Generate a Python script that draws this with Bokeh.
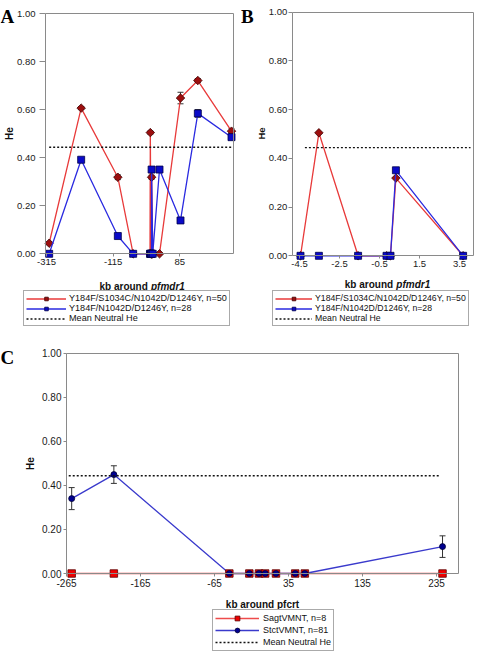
import numpy as np
from bokeh.plotting import figure
from bokeh.models import (ColumnDataSource, Whisker, TeeHead, Legend, LegendItem, Label,
                          FixedTicker, PrintfTickFormatter, Range1d, LinearAxis)
from bokeh.layouts import column, row
from bokeh.embed import file_html
from bokeh.resources import INLINE

# ------------------------------------------------------------------ data
# Panel A: He around pfmdr1 (kb)
kb_A = [-307, -211, -101, -55, -4.45, -3.53, -1.57, -0.15, 0.05, 0.32, 3.68, 24, 87, 139, 240]
he_A_quad = [0.044, 0.607, 0.319, 0.0, 0.0, 0.505, 0.0, 0.0, 0.0, 0.319, 0.0, 0.0, 0.649, 0.722, 0.511]
err_A_quad = [0.006, 0.006, 0.010, 0.0, 0.0, 0.006, 0.0, 0.0, 0.0, 0.008, 0.0, 0.0, 0.024, 0.008, 0.010]
he_A_triple = [0.0, 0.392, 0.074, 0.0, 0.0, 0.0, 0.0, 0.0, 0.0, 0.351, 0.0, 0.351, 0.139, 0.585, 0.486]
err_A_triple = [0.0, 0.006, 0.008, 0.0, 0.0, 0.0, 0.0, 0.0, 0.0, 0.006, 0.0, 0.006, 0.008, 0.016, 0.008]
ticks_A = [-315, -115, 85]
extent_A = (-318, 246)
neutral_x_A = [-307, 246]

# Panel B: close-up around pfmdr1 (kb)
kb_B = [-4.45, -3.53, -1.57, -0.15, 0.05, 0.32, 3.68]
he_B_quad = [0.0, 0.505, 0.0, 0.0, 0.0, 0.319, 0.0]
he_B_triple = [0.0, 0.0, 0.0, 0.0, 0.0, 0.351, 0.0]
ticks_B = [-4.5, -2.5, -0.5, 1.5, 3.5]
extent_B = (-4.865, 4.215)
neutral_x_B = [-4.23, 4.05]

# Panel C: He around pfcrt (kb)
kb_C = [-258, -201, -45, -18, -5, 3.4, 18, 44, 57, 243]
he_C_sagt = [0.0, 0.0, 0.0, 0.0, 0.0, 0.0, 0.0, 0.0, 0.0, 0.0]
he_C_stct = [0.340, 0.449, 0.0, 0.0, 0.0, 0.0, 0.0, 0.0, 0.0, 0.122]
err_C_stct = [0.050, 0.040, 0.0, 0.0, 0.0, 0.0, 0.0, 0.0, 0.0, 0.049]
ticks_C = [-265, -165, -65, 35, 135, 235]
extent_C = (-265, 265)
neutral_x_C = [-262, 240]

mean_neutral_he = 0.444
y_ticks = [0.0, 0.2, 0.4, 0.6, 0.8, 1.0]

lab_quad = "Y184F/S1034C/N1042D/D1246Y, n=50"
lab_triple = "Y184F/N1042D/D1246Y, n=28"
lab_sagt = "SagtVMNT, n=8"
lab_stct = "StctVMNT, n=81"
lab_neutral = "Mean Neutral He"

# ------------------------------------------------------------------ style
FONT = "Liberation Sans"
SERIF = "Liberation Serif"
AXIS_GRAY = "#8a8a8a"
RED_LINE = "#e83a3a"
RED_FILL = "#9c0e0e"
RED_EDGE = "#3d0000"
BLUE_LINE = "#2a2ae0"
BLUE_FILL = "#0a0ac8"
BLUE_EDGE = "#00004a"
SAGT_LINE = "#ee4b4b"
SAGT_FILL = "#ee0000"
SAGT_EDGE = "#5a0000"
STCT_LINE = "#3a3acc"
STCT_FILL = "#00008f"
STCT_EDGE = "#000033"


def style_axis(ax, tick_font="10px", tick_out=3, standoff=2, ticks=True):
    ax.axis_line_color = AXIS_GRAY
    ax.axis_line_width = 1
    ax.minor_tick_line_color = None
    if ticks:
        ax.major_tick_line_color = AXIS_GRAY
        ax.major_tick_out = tick_out
        ax.major_tick_in = 0
        ax.major_label_text_font = FONT
        ax.major_label_text_font_size = tick_font
        ax.major_label_text_color = "#1a1a1a"
        ax.major_label_standoff = standoff
    else:
        ax.major_tick_line_color = None
        ax.major_label_text_font_size = "0px"


def make_panel(w, h, L, R, T, B, extent, xticks, xfmt, tick_font, ytick_out, ystandoff):
    """Figure whose frame covers the whole canvas; plot box at pixels L..R, T..B."""
    xa0, xa1 = extent
    sx = (R - L) / (xa1 - xa0)
    sy = (B - T) / 1.0
    p = figure(width=w, height=h,
               x_range=Range1d(xa0 - L / sx, xa1 + (w - R) / sx),
               y_range=Range1d(0 - (h - B) / sy, 1 + T / sy),
               output_backend="svg", toolbar_location=None, title=None, min_border=0)
    p.outline_line_color = None
    p.xgrid.visible = False
    p.ygrid.visible = False
    p.background_fill_color = "white"
    p.border_fill_color = "white"
    xa = p.xaxis[0]
    ya = p.yaxis[0]
    xa.ticker = FixedTicker(ticks=xticks)
    xa.formatter = PrintfTickFormatter(format=xfmt)
    xa.fixed_location = 0
    xa.bounds = (xa0, xa1)
    ya.ticker = FixedTicker(ticks=y_ticks)
    ya.formatter = PrintfTickFormatter(format="%.2f")
    ya.fixed_location = xa0
    ya.bounds = (0, 1)
    style_axis(xa, tick_font, 3, 2)
    style_axis(ya, tick_font, ytick_out, ystandoff)
    rt = LinearAxis(ticker=FixedTicker(ticks=[]), fixed_location=xa1, bounds=(0, 1))
    style_axis(rt, ticks=False)
    p.add_layout(rt, "right")
    tp = LinearAxis(ticker=FixedTicker(ticks=[]), fixed_location=1.0, bounds=(xa0, xa1))
    style_axis(tp, ticks=False)
    p.add_layout(tp, "above")
    return p


def add_text(p, h, x, y, text, size, style="bold", font=FONT, angle=0.0, align="left",
             baseline="middle", color="#111111"):
    # x, y given in canvas pixels from the top-left corner
    p.add_layout(Label(x=x, y=h - y, x_units="screen", y_units="screen", text=text,
                       text_font=font, text_font_size=size, text_font_style=style,
                       angle=angle, text_align=align, text_baseline=baseline,
                       text_color=color))


def add_err(p, xs, ys, es):
    xs_, up, lo = [], [], []
    for x, y, e in zip(xs, ys, es):
        if e > 0:
            xs_.append(x)
            up.append(y + e)
            lo.append(y - e)
    src = ColumnDataSource(dict(x=xs_, upper=up, lower=lo))
    w = Whisker(base="x", upper="upper", lower="lower", source=src,
                line_color="#333333", line_width=1,
                upper_head=TeeHead(size=6, line_color="#333333", line_width=1),
                lower_head=TeeHead(size=6, line_color="#333333", line_width=1))
    p.add_layout(w)


def make_legend(items, loc, font_size, glyph_w, row_h, padding, standoff):
    leg = Legend(items=items, location=loc)
    leg.label_text_font = FONT
    leg.label_text_font_size = font_size
    leg.label_text_color = "#111111"
    leg.glyph_width = glyph_w
    leg.glyph_height = row_h
    leg.label_height = row_h
    leg.label_standoff = standoff
    leg.spacing = 0
    leg.padding = padding
    leg.margin = 0
    leg.border_line_color = "#555555"
    leg.border_line_width = 1
    leg.background_fill_color = "white"
    leg.background_fill_alpha = 1.0
    return leg


def pfmdr_series(p, xs, quad, triple, eq=None, et=None):
    if eq is not None:
        add_err(p, xs, quad, eq)
    if et is not None:
        add_err(p, xs, triple, et)
    rl = p.line(xs, quad, line_color=RED_LINE, line_width=1.3)
    rm = p.scatter(xs, quad, marker="square", angle=np.pi / 4, size=6,
                   fill_color=RED_FILL, line_color=RED_EDGE, line_width=0.8)
    bl = p.line(xs, triple, line_color=BLUE_LINE, line_width=1.3)
    bm = p.scatter(xs, triple, marker="square", size=7,
                   fill_color=BLUE_FILL, line_color=BLUE_EDGE, line_width=0.8)
    return rl, rm, bl, bm


# ------------------------------------------------------------------ panel A
HA = 330
pA = make_panel(240, HA, 45, 233, 13.3, 253.3, extent_A, ticks_A, "%d", "9.5px", 6, 4)
rl, rm, bl, bm = pfmdr_series(pA, kb_A, he_A_quad, he_A_triple, err_A_quad, err_A_triple)
nl = pA.line(neutral_x_A, [mean_neutral_he, mean_neutral_he], line_color="#111111",
             line_width=1.4, line_dash="2 2")
pA.add_layout(make_legend([LegendItem(label=lab_quad, renderers=[rl, rm]),
                           LegendItem(label=lab_triple, renderers=[bl, bm]),
                           LegendItem(label=lab_neutral, renderers=[nl])],
                          (23, HA - 326), "9.1px", 40, 9, 2, 3))
add_text(pA, HA, 99, 286, "kb around ", "10px")
add_text(pA, HA, 150.5, 286, "pfmdr1", "10px", style="bold italic")
add_text(pA, HA, 8.5, 133, "He", "10px", angle=np.pi / 2, align="center")
add_text(pA, HA, 0, 15.5, "A", "19px", font=SERIF, baseline="alphabetic", color="#000000")

# ------------------------------------------------------------------ panel B
HB = 330
pB = make_panel(240, HB, 51.7, 233.3, 11.7, 255.3, extent_B, ticks_B, "%.1f", "9.5px", 4, 1)
rl, rm, bl, bm = pfmdr_series(pB, kb_B, he_B_quad, he_B_triple)
nl = pB.line(neutral_x_B, [mean_neutral_he, mean_neutral_he], line_color="#111111",
             line_width=1.4, line_dash="2 2")
pB.add_layout(make_legend([LegendItem(label=lab_quad, renderers=[rl, rm]),
                           LegendItem(label=lab_triple, renderers=[bl, bm]),
                           LegendItem(label=lab_neutral, renderers=[nl])],
                          (32, HB - 326), "8.7px", 37, 9, 2, 3))
add_text(pB, HB, 104.3, 284.3, "kb around ", "10px")
add_text(pB, HB, 155.8, 284.3, "pfmdr1", "10px", style="bold italic")
add_text(pB, HB, 20.5, 133, "He", "9.5px", angle=np.pi / 2, align="center")
add_text(pB, HB, 0.5, 15.5, "B", "19px", font=SERIF, baseline="alphabetic", color="#000000")

# ------------------------------------------------------------------ panel C
HC = 322
pC = make_panel(480, HC, 66, 458.3, 22.7, 243, extent_C, ticks_C, "%d", "10px", 3, 2)
add_err(pC, kb_C, he_C_stct, err_C_stct)
sl = pC.line(kb_C, he_C_sagt, line_color=SAGT_LINE, line_width=1.3)
tl = pC.line(kb_C, he_C_stct, line_color=STCT_LINE, line_width=1.3)
sm = pC.scatter(kb_C, he_C_sagt, marker="square", size=7.5,
                fill_color=SAGT_FILL, line_color=SAGT_EDGE, line_width=0.8)
tm = pC.scatter(kb_C, he_C_stct, marker="circle", size=6,
                fill_color=STCT_FILL, line_color=STCT_EDGE, line_width=0.8)
nl = pC.line(neutral_x_C, [mean_neutral_he, mean_neutral_he], line_color="#111111",
             line_width=1.4, line_dash="2 2")
pC.add_layout(make_legend([LegendItem(label=lab_sagt, renderers=[sl, sm]),
                           LegendItem(label=lab_stct, renderers=[tl, tm]),
                           LegendItem(label=lab_neutral, renderers=[nl])],
                          (212, 1), "9px", 44, 12, 2, 4))
add_text(pC, HC, 262, 274.3, "kb around pfcrt", "10px", align="center")
add_text(pC, HC, 29.5, 133, "He", "10px", angle=np.pi / 2, align="center")
add_text(pC, HC, 0, 26.7, "C", "19px", font=SERIF, baseline="alphabetic", color="#000000")

layout = column(row(pA, pB), pC)
open("out.html", "w").write(file_html(layout, INLINE))
